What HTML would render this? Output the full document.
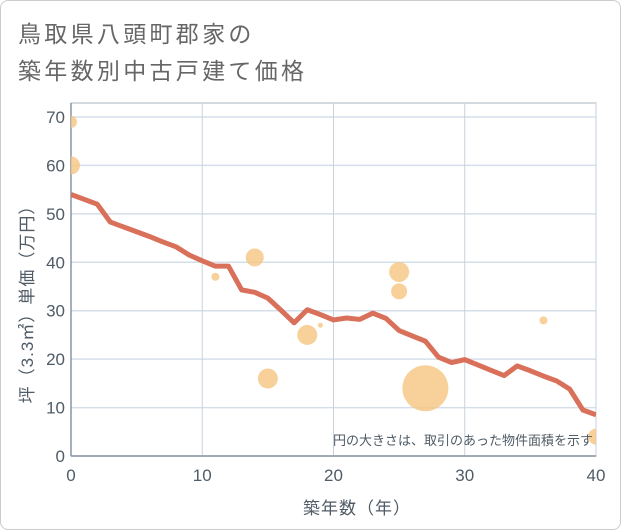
<!DOCTYPE html>
<html><head><meta charset="utf-8"><style>
body{margin:0;background:#fff;}
#wrap{position:relative;width:621px;height:530px;overflow:hidden;font-family:"Liberation Sans","Noto Sans CJK JP",sans-serif;}
#frame{position:absolute;left:0;top:0;width:619px;height:528px;border:1px solid #ccc;border-radius:8px;}
.title{position:absolute;left:18px;font-size:23px;color:#666;letter-spacing:3.3px;white-space:nowrap;}
</style></head><body>
<div id="wrap">
<div id="frame"></div>
<div class="title" style="top:15px">鳥取県八頭町郡家の</div>
<div class="title" style="top:52px">築年数別中古戸建て価格</div>
<svg id="chart" width="621" height="530" style="position:absolute;left:0;top:0">
<defs><clipPath id="pc"><rect x="71" y="103" width="525" height="353"/></clipPath></defs>
</svg>
</div>
<script>
const lineYears=[0,1,2,3,4,5,6,7,8,9,10,11,12,13,14,15,16,17,18,19,20,21,22,23,24,25,26,27,28,29,30,31,32,33,34,35,36,37,38,39,40];
const linePrices=[54,53,52,48.3,47.3,46.3,45.3,44.2,43.2,41.5,40.3,39.2,39.2,34.3,33.8,32.6,30.1,27.5,30.2,29.2,28.1,28.5,28.2,29.5,28.4,25.9,24.8,23.7,20.4,19.3,19.9,18.8,17.7,16.6,18.6,17.6,16.5,15.5,13.8,9.5,8.5];
const bubbleYears=[0,0,11,14,15,18,19,25,25,27,36,40];
const bubblePrices=[69,60,37,41,16,25,27,38,34,14,28,4];
const bubbleSizes=[6,9,4,9,10,10,2.5,10,8,23,4,8];
const xTicks=[0,10,20,30,40];
const yTicks=[0,10,20,30,40,50,60,70];
const NS="http://www.w3.org/2000/svg";
const svg=document.getElementById('chart');
const L=71,R=596,T=103,B=456;
const xs=v=>L+(v/40)*(R-L);
const ys=v=>B-(v/70)*(B-117);
function mk(tag,attrs){const e=document.createElementNS(NS,tag);for(const k in attrs)e.setAttribute(k,attrs[k]);svg.appendChild(e);return e;}
const bg=mk('rect',{x:L,y:T,width:R-L,height:B-T,fill:'#fff',stroke:'#aab4c0','stroke-width':1});


yTicks.forEach(t=>{
 const g=mk('line',{x1:L,x2:R,y1:ys(t),y2:ys(t),stroke:'#d5dfea','stroke-width':1.5});
 
 
 const tx=mk('text',{x:L-6,y:ys(t)+6,'text-anchor':'end','font-size':17,fill:'#4f5b66'});
 tx.textContent=t;
 
 
});
xTicks.forEach(t=>{
 const g=mk('line',{x1:xs(t),x2:xs(t),y1:T,y2:B,stroke:'#c8d2dc','stroke-width':1});
 
 
 const tx=mk('text',{x:xs(t),y:B+25,'text-anchor':'middle','font-size':17,fill:'#4f5b66'});
 tx.textContent=t;
 
 
});
const ax=mk('line',{x1:L,x2:L,y1:T,y2:B,stroke:'#8a96a4','stroke-width':1.5});


const ax2=mk('line',{x1:L,x2:R,y1:B,y2:B,stroke:'#8a96a4','stroke-width':1.5});


bubbleYears.forEach((yr,i)=>{
 const c=mk('circle',{cx:xs(yr),cy:ys(bubblePrices[i]),r:bubbleSizes[i],fill:'#f5c57f','fill-opacity':0.8,'clip-path':'url(#pc)'});
 
 
});
const pts=lineYears.map((yr,i)=>xs(yr)+','+ys(linePrices[i])).join(' ');
const pl=mk('polyline',{points:pts,fill:'none',stroke:'#d9705a','stroke-width':5,'stroke-linejoin':'round','clip-path':'url(#pc)'});


const note=mk('text',{x:593,y:445,'text-anchor':'end','font-size':13,fill:'#4f5b66'});
note.textContent='円の大きさは、取引のあった物件面積を示す';


const xt=mk('text',{x:357,y:514,'text-anchor':'middle','font-size':17,fill:'#4f5b66','letter-spacing':1});
xt.textContent='築年数（年）';


const yt=mk('text',{x:0,y:0,'text-anchor':'middle','font-size':17,fill:'#4f5b66','letter-spacing':1,transform:'translate(33,300) rotate(-90)'});
yt.textContent='坪（3.3㎡）単価（万円）';


</script>
</body></html>
